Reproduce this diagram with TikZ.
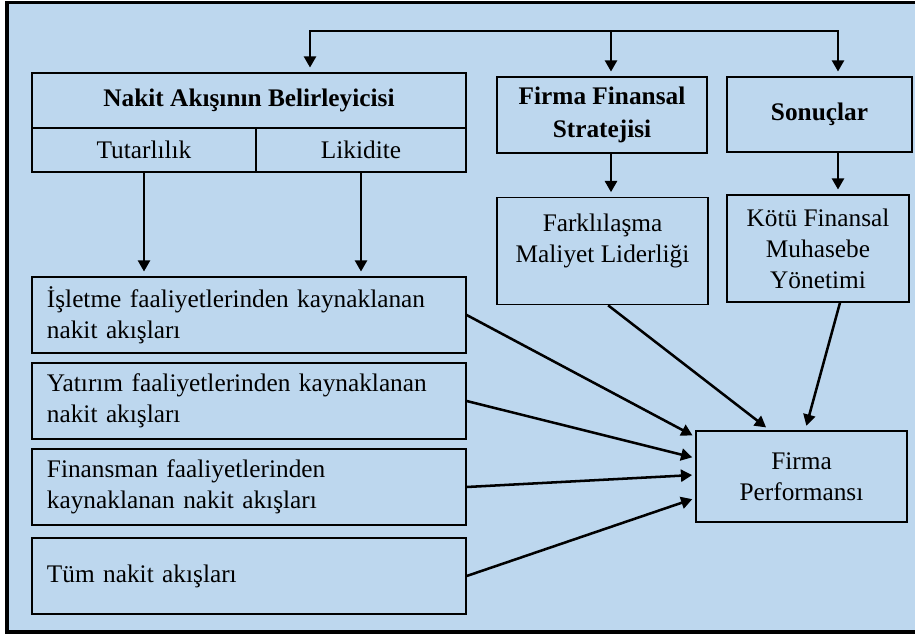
\documentclass[tikz,border=0pt]{standalone}
\usepackage{fontspec}
\setmainfont{Liberation Serif}
\usetikzlibrary{arrows.meta}
\definecolor{bg_blue}{RGB}{189,215,238}
\begin{document}
\begin{tikzpicture}[x=0.025cm, y=-0.025cm, font=\fontsize{18}{22}\selectfont,
		box/.style={draw, line width=0.9pt, fill=bg_blue, align=center},
		l_box/.style={box, minimum width=10.85cm, minimum height=1.9cm, inner xsep=0.375cm, text width=10.1cm, align=left},
		arr/.style={line width=1.8pt, -{Triangle[length=0.28cm, width=0.3cm]}, shorten >=0.12cm},
		l_frame/.style={line width=2.2pt}]
		\useasboundingbox (0,0) rectangle (915,638);
		% frame
		\fill[bg_blue] (7,2.5) rectangle (915,632);
		\draw[l_frame] (915,2.5) -- (7,2.5) -- (7,632) -- (915,632);
		
		% top row
		\node[box, minimum width=10.85cm, minimum height=1.375cm, font=\fontsize{18}{22}\selectfont\bfseries] (nakit) at (249,100.5) {Nakit Akışının Belirleyicisi};
		\node[box, minimum width=5.6cm, minimum height=1.1cm] (tut) at (144,150) {Tutarlılık};
		\node[box, minimum width=5.25cm, minimum height=1.1cm] (lik) at (361,150) {Likidite};
		\node[box, minimum width=5.25cm, minimum height=1.9cm, font=\fontsize{18}{23}\selectfont\bfseries] (strat) at (602,115) {Firma Finansal\\Stratejisi};
		\node[box, minimum width=4.625cm, minimum height=1.875cm, font=\fontsize{18}{22}\selectfont\bfseries] (sonuc) at (819.5,114.5) {Sonuçlar};
		
		\node[box, anchor=north, minimum width=5.275cm, minimum height=2.675cm, inner ysep=0.4cm, text depth=0.66cm] (fark) at (602.5,197) {Farklılaşma\\Maliyet Liderliği};
		\node[box, minimum width=4.55cm, minimum height=2.675cm] (kotu) at (818,248.5) {Kötü Finansal\\Muhasebe\\Yönetimi};
		\node[box, minimum width=5.275cm, minimum height=2.275cm] (perf) at (801.5,476.5) {Firma\\Performansı};
		
		% cash flow boxes
		\foreach \n/\y/\t in {isl/315/{İşletme faaliyetlerinden kaynaklanan\\nakit akışları},
			yat/401/{Yatırım faaliyetlerinden kaynaklanan\\nakit akışları},
			fin/487/{Finansman faaliyetlerinden\\kaynaklanan nakit akışları},
			tum/576/{Tüm nakit akışları}} {
			\node[l_box] (\n) at (249,\y) {\t};
		};
		
		% bus on top
		\coordinate (bus_l) at (310,31);
		\coordinate (bus_m) at (611,31);
		\coordinate (bus_r) at (838,31);
		\draw[line width=1.8pt, line cap=rect] (bus_l) -- (bus_r);
		\draw[arr] (bus_l) -- (bus_l |- nakit.north);
		\draw[arr] (bus_m) -- (bus_m |- strat.north);
		\draw[arr] (bus_r) -- (bus_r |- sonuc.north);
		
		\draw[arr] (bus_m |- strat.south) -- (bus_m |- fark.north);
		\draw[arr] (bus_r |- sonuc.south) -- (bus_r |- kotu.north);
		\draw[arr] (tut.south) -- (tut.south |- isl.north);
		\draw[arr] (lik.south) -- (lik.south |- isl.north);
		
		\foreach \n/\s in {isl/0.99cm, yat/0.46cm, fin/0.04cm, tum/-0.54cm} {
			\draw[arr, shorten >=0.08cm] (\n.east) -- ([yshift=\s]perf.west);
		};
		\draw[arr] ([xshift=0.14cm]fark.south) -- ([xshift=-0.79cm]perf.north);
		\draw[arr] ([xshift=0.55cm]kotu.south) -- ([xshift=0.09cm]perf.north);
\end{tikzpicture}
\end{document}
